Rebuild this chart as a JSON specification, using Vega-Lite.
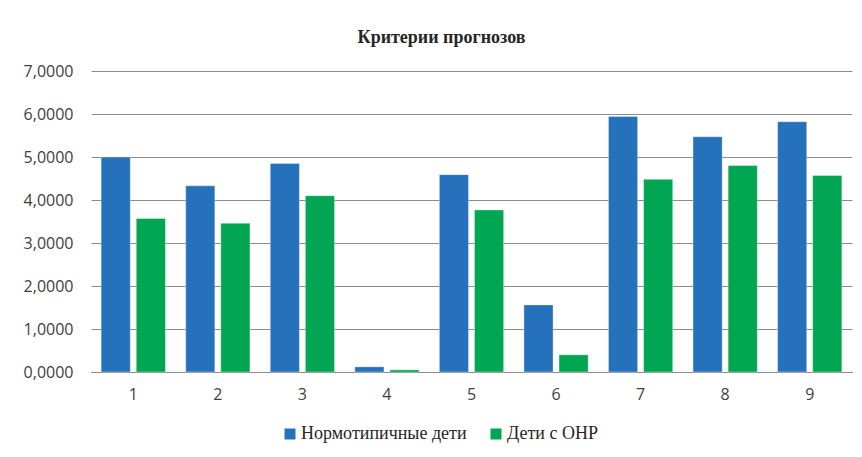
{
  "$schema": "https://vega.github.io/schema/vega-lite/v6.json",
  "autosize": {"type": "none"},
  "width": 761,
  "height": 301,
  "padding": {"left": 91, "top": 71, "right": 10, "bottom": 85},
  "background": "#ffffff",
  "title": {
    "text": "Критерии прогнозов",
    "font": "Liberation Serif",
    "fontSize": 18,
    "fontWeight": "bold",
    "color": "#262626",
    "anchor": "middle",
    "dx": -30,
    "offset": 16
  },
  "data": {
    "values": [
      {"k": "1", "g": "Нормотипичные дети", "v": 5.00},
      {"k": "1", "g": "Дети с ОНР", "v": 3.57},
      {"k": "2", "g": "Нормотипичные дети", "v": 4.33},
      {"k": "2", "g": "Дети с ОНР", "v": 3.46},
      {"k": "3", "g": "Нормотипичные дети", "v": 4.85},
      {"k": "3", "g": "Дети с ОНР", "v": 4.10},
      {"k": "4", "g": "Нормотипичные дети", "v": 0.12},
      {"k": "4", "g": "Дети с ОНР", "v": 0.05},
      {"k": "5", "g": "Нормотипичные дети", "v": 4.59},
      {"k": "5", "g": "Дети с ОНР", "v": 3.77},
      {"k": "6", "g": "Нормотипичные дети", "v": 1.56},
      {"k": "6", "g": "Дети с ОНР", "v": 0.40},
      {"k": "7", "g": "Нормотипичные дети", "v": 5.94},
      {"k": "7", "g": "Дети с ОНР", "v": 4.48},
      {"k": "8", "g": "Нормотипичные дети", "v": 5.47},
      {"k": "8", "g": "Дети с ОНР", "v": 4.80},
      {"k": "9", "g": "Нормотипичные дети", "v": 5.82},
      {"k": "9", "g": "Дети с ОНР", "v": 4.57}
    ]
  },
  "mark": {"type": "bar", "stroke": "#ffffff", "strokeWidth": 0.6, "strokeOpacity": 0.6},
  "encoding": {
    "x": {
      "field": "k",
      "type": "nominal",
      "sort": null,
      "scale": {"paddingInner": 0.24, "paddingOuter": 0.12},
      "axis": {
        "title": null,
        "labelAngle": 0,
        "labelFont": "Open Sans",
        "labelFontSize": 16,
        "labelColor": "#404040",
        "labelPadding": 14,
        "ticks": false,
        "domainColor": "#8c8c8c",
        "domainWidth": 1.2
      }
    },
    "xOffset": {
      "field": "g",
      "type": "nominal",
      "sort": ["Нормотипичные дети", "Дети с ОНР"],
      "scale": {"paddingInner": 0.17}
    },
    "y": {
      "field": "v",
      "type": "quantitative",
      "scale": {"domain": [0, 7], "nice": false},
      "axis": {
        "title": null,
        "values": [0, 1, 2, 3, 4, 5, 6, 7],
        "labelExpr": "replace(format(datum.value, '.4f'), '.', ',')",
        "labelFont": "Open Sans",
        "labelFontSize": 16,
        "labelColor": "#404040",
        "labelPadding": 18,
        "ticks": false,
        "domain": false,
        "gridColor": "#8c8c8c",
        "gridWidth": 1.2
      }
    },
    "color": {
      "field": "g",
      "type": "nominal",
      "scale": {
        "domain": ["Нормотипичные дети", "Дети с ОНР"],
        "range": ["#2571BC", "#00A651"]
      },
      "legend": {
        "title": null,
        "orient": "none",
        "direction": "horizontal",
        "legendX": 190,
        "legendY": 354,
        "symbolType": "square",
        "symbolSize": 121,
        "symbolStrokeWidth": 0,
        "labelFont": "Liberation Serif",
        "labelFontSize": 18,
        "labelLimit": 400,
        "labelColor": "#262626",
        "labelOffset": 2,
        "columnPadding": 20
      }
    }
  },
  "config": {
    "view": {"stroke": null}
  }
}
